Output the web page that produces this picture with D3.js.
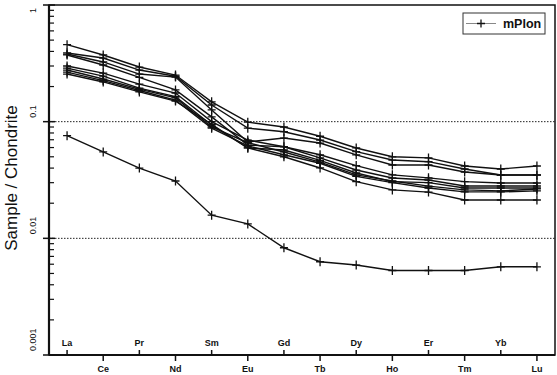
<!DOCTYPE html>
<html>
<head>
<meta charset="utf-8">
<script src="https://cdn.jsdelivr.net/npm/d3@7"></script>
<style>
  body { margin: 0; background: #fff; }
  text { font-family: "Liberation Sans", Arial, sans-serif; fill: #111; }
</style>
</head>
<body>
<div id="chart"></div>
<script>
// REE elements, chondrite normalised
var elements = ["La", "Ce", "Pr", "Nd", "Sm", "Eu", "Gd", "Tb", "Dy", "Ho", "Er", "Tm", "Yb", "Lu"];

// one array per sample
var s1 = [0.457, 0.373, 0.294, 0.251, 0.148, 0.099, 0.090, 0.075, 0.0595, 0.050, 0.0489, 0.0417, 0.0393, 0.0417];
var s2 = [0.388, 0.351, 0.277, 0.245, 0.139, 0.088, 0.082, 0.0696, 0.0553, 0.0469, 0.0454, 0.0393, 0.0349, 0.0349];
var s3 = [0.380, 0.325, 0.256, 0.241, 0.126, 0.067, 0.0724, 0.0656, 0.052, 0.0425, 0.0425, 0.037, 0.0349, 0.0349];
var s4 = [0.373, 0.306, 0.240, 0.187, 0.110, 0.063, 0.061, 0.052, 0.042, 0.035, 0.033, 0.0306, 0.0298, 0.0298];
var s5 = [0.300, 0.261, 0.210, 0.176, 0.100, 0.0696, 0.061, 0.0489, 0.0385, 0.0329, 0.0316, 0.0281, 0.0281, 0.0281];
var s6 = [0.288, 0.246, 0.194, 0.164, 0.0936, 0.0595, 0.0572, 0.0466, 0.0363, 0.0306, 0.030, 0.027, 0.027, 0.027];
var s7 = [0.277, 0.232, 0.190, 0.160, 0.090, 0.066, 0.055, 0.045, 0.035, 0.031, 0.028, 0.026, 0.0255, 0.0265];
var s8 = [0.266, 0.225, 0.185, 0.153, 0.088, 0.062, 0.052, 0.044, 0.034, 0.030, 0.027, 0.025, 0.025, 0.0255];
var s9 = [0.256, 0.219, 0.180, 0.150, 0.095, 0.0595, 0.050, 0.0401, 0.0306, 0.026, 0.0249, 0.0213, 0.0213, 0.0213];
var s10 = [0.0758, 0.055, 0.040, 0.031, 0.0158, 0.0133, 0.0083, 0.0063, 0.0059, 0.0053, 0.0053, 0.0053, 0.0057, 0.0057];

var samples = [s1, s2, s3, s4, s5, s6, s7, s8, s9, s10];
var yTicks = [1, 0.1, 0.01, 0.001];
var refLines = [0.1, 0.01];
var legendLabel = "mPlon";

var width = 557,
    height = 375;

var svg = d3.select("#chart").append("svg")
    .attr("width", width)
    .attr("height", height);

// plot box
var pLeft = 49, pRight = 555, pTop = 5, pBottom = 355;

var x = d3.scalePoint()
    .domain(elements)
    .range([pLeft, pRight])
    .padding(0.5);

var y = d3.scaleLog()
    .domain([0.001, 1])
    .range([pBottom, pTop]);

// dotted reference lines
svg.selectAll(".ref")
    .data(refLines)
    .enter().append("line")
    .attr("x1", pLeft).attr("x2", pRight)
    .attr("y1", function(d) { return y(d); })
    .attr("y2", function(d) { return y(d); })
    .attr("stroke", "#222")
    .attr("stroke-width", 1)
    .attr("stroke-dasharray", "1.5,1.5");

// frame
svg.append("rect")
    .attr("x", pLeft).attr("y", pTop)
    .attr("width", pRight - pLeft).attr("height", pBottom - pTop)
    .attr("fill", "none")
    .attr("stroke", "#111")
    .attr("stroke-width", 1.5);
svg.append("line")
    .attr("x1", pLeft).attr("x2", pLeft).attr("y1", pTop).attr("y2", pBottom)
    .attr("stroke", "#111").attr("stroke-width", 2.2);
svg.append("line")
    .attr("x1", pLeft).attr("x2", pRight).attr("y1", pBottom).attr("y2", pBottom)
    .attr("stroke", "#111").attr("stroke-width", 2.2);

// minor ticks on the log axis
var minor = [];
[0.001, 0.01, 0.1].forEach(function(dec) {
    for (var k = 2; k <= 9; k++) minor.push(dec * k);
});
svg.selectAll(".minor")
    .data(minor)
    .enter().append("line")
    .attr("x1", pLeft).attr("x2", pLeft + 5)
    .attr("y1", function(d) { return y(d); })
    .attr("y2", function(d) { return y(d); })
    .attr("stroke", "#111").attr("stroke-width", 1.2);

svg.selectAll(".major")
    .data(yTicks)
    .enter().append("line")
    .attr("x1", pLeft - 6).attr("x2", pLeft + 6)
    .attr("y1", function(d) { return y(d); })
    .attr("y2", function(d) { return y(d); })
    .attr("stroke", "#111").attr("stroke-width", 1.5);

svg.selectAll(".ylab")
    .data(yTicks)
    .enter().append("text")
    .attr("transform", function(d) {
        var yy = d === 1 ? y(d) + 8 : y(d) - 4;
        return "translate(36," + yy + ") rotate(-90)";
    })
    .style("font-size", "9px")
    .text(function(d) { return d; });

svg.append("text")
    .attr("transform", "translate(17,178) rotate(-90)")
    .attr("text-anchor", "middle")
    .style("font-size", "17px")
    .text("Sample / Chondrite");

// element ticks and labels, alternating above / below the axis
svg.selectAll(".xtick")
    .data(elements)
    .enter().append("line")
    .attr("x1", function(d) { return x(d); })
    .attr("x2", function(d) { return x(d); })
    .attr("y1", pBottom)
    .attr("y2", function(d, i) { return i % 2 === 0 ? pBottom - 5 : pBottom + 6; })
    .attr("stroke", "#111").attr("stroke-width", 1.5);

svg.selectAll(".xlab")
    .data(elements)
    .enter().append("text")
    .attr("x", function(d) { return x(d); })
    .attr("y", function(d, i) { return i % 2 === 0 ? 346 : 372; })
    .attr("text-anchor", "middle")
    .style("font-size", "9px")
    .style("font-weight", "bold")
    .text(function(d) { return d; });

// sample lines
var line = d3.line()
    .x(function(d, i) { return x(elements[i]); })
    .y(function(d) { return y(d); });

svg.selectAll(".sample")
    .data(samples)
    .enter().append("path")
    .attr("d", line)
    .attr("fill", "none")
    .attr("stroke", "#111")
    .attr("stroke-width", 1.4);

// "+" markers
var pts = [];
samples.forEach(function(s) {
    s.forEach(function(v, i) { pts.push({ e: elements[i], v: v }); });
});

svg.selectAll(".mark")
    .data(pts)
    .enter().append("path")
    .attr("d", function(d) {
        var cx = x(d.e), cy = y(d.v);
        return "M" + (cx - 4) + "," + cy + "H" + (cx + 4) +
               "M" + cx + "," + (cy - 4.5) + "V" + (cy + 4.5);
    })
    .attr("stroke", "#111")
    .attr("stroke-width", 1.3);

// legend
var lg = svg.append("g").attr("transform", "translate(463,13)");
lg.append("rect")
    .attr("width", 82).attr("height", 21)
    .attr("fill", "#fff")
    .attr("stroke", "#333").attr("stroke-width", 1);
lg.append("line")
    .attr("x1", 3).attr("x2", 33).attr("y1", 10.5).attr("y2", 10.5)
    .attr("stroke", "#888").attr("stroke-width", 1);
lg.append("path")
    .attr("d", "M14,10.5H22M18,6.5V14.5")
    .attr("stroke", "#111").attr("stroke-width", 1.3);
lg.append("text")
    .attr("x", 40).attr("y", 15)
    .style("font-size", "12.5px")
    .style("font-weight", "bold")
    .text(legendLabel);
</script>
</body>
</html>
